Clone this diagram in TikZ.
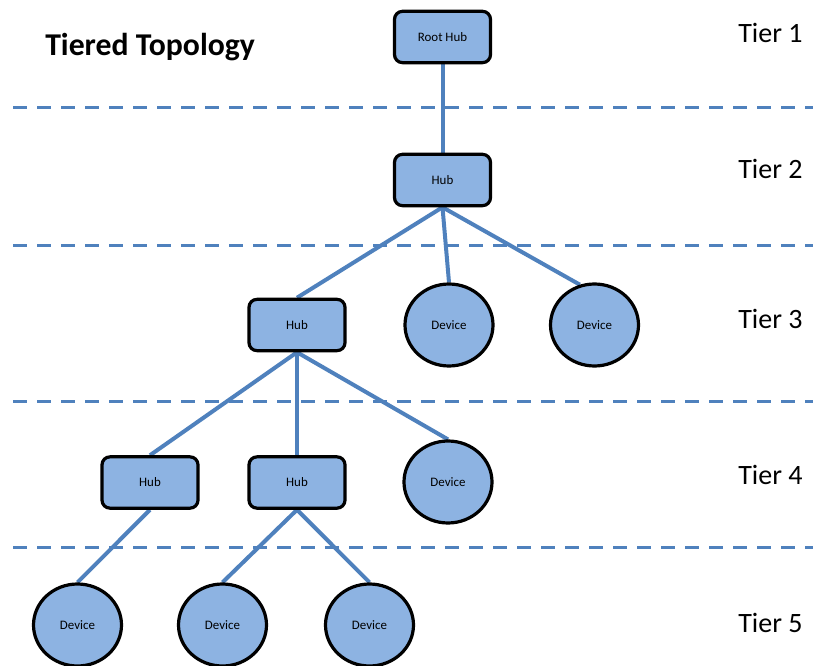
\documentclass[tikz,border=0pt]{standalone}
\usepackage{fontspec}
\setmainfont{Carlito}
\usetikzlibrary{shapes.geometric}
\pgfdeclarelayer{bg}
\pgfsetlayers{bg,main}
\definecolor{lineblue}{HTML}{4F81BD}
\definecolor{fillblue}{HTML}{8DB3E2}
\tikzset{
  hubbox/.style={draw=black, line width=2.4pt, fill=fillblue, rounded corners=6pt,
    minimum width=72pt, minimum height=38.5pt, inner sep=0pt, font=\fontsize{9.7}{10}\selectfont},
  devnode/.style={draw=black, line width=2.4pt, fill=fillblue, ellipse,
    minimum width=66pt, minimum height=61.5pt, inner sep=0pt, font=\fontsize{9.7}{10}\selectfont},
  conn/.style={draw=lineblue, line width=3pt},
  tierline/.style={draw=lineblue, line width=2.6pt, dash pattern=on 10.5pt off 7.5pt},
  tierlabel/.style={anchor=base west, inner sep=0pt, font=\fontsize{21}{24}\selectfont},
  titlelabel/.style={anchor=base west, inner sep=0pt, font=\bfseries\fontsize{23.8}{26}\selectfont}
}
\begin{document}
\begin{tikzpicture}[x=0.75pt,y=-0.75pt]
\useasboundingbox (0,0) rectangle (813,666);
% tier separators
\coordinate (l1a) at (13,107.7); \coordinate (l1b) at (813,107.7);
\coordinate (l2a) at (13,245.3); \coordinate (l2b) at (813,245.3);
\coordinate (l3a) at (13,401.7); \coordinate (l3b) at (813,401.7);
\coordinate (l4a) at (13,547.7); \coordinate (l4b) at (813,547.7);
\draw[tierline] (l1a) -- (l1b);
\draw[tierline] (l2a) -- (l2b);
\draw[tierline] (l3a) -- (l3b);
\draw[tierline] (l4a) -- (l4b);
% title and tier labels
\node[titlelabel] (title) at (45,56) {Tiered Topology};
\node[tierlabel] (t1) at (738,43) {Tier 1};
\node[tierlabel] (t2) at (738,179) {Tier 2};
\node[tierlabel] (t3) at (738,329) {Tier 3};
\node[tierlabel] (t4) at (738,484) {Tier 4};
\node[tierlabel] (t5) at (738,632) {Tier 5};
% nodes
\node[hubbox] (root) at (442.5,37) {Root Hub};
\node[hubbox] (hub2) at (442.5,180) {Hub};
\node[hubbox] (hub3) at (297,325) {Hub};
\node[devnode] (d31) at (449,325) {Device};
\node[devnode] (d32) at (594.5,325) {Device};
\node[hubbox] (hub4a) at (150,482.5) {Hub};
\node[hubbox] (hub4b) at (297,482.5) {Hub};
\node[devnode] (d41) at (448,482) {Device};
\node[devnode] (d51) at (77.5,625) {Device};
\node[devnode] (d52) at (222.5,625) {Device};
\node[devnode] (d53) at (369.5,625) {Device};
% connectors
\begin{pgfonlayer}{bg}
\draw[conn] (root.south) -- (hub2.north);
\draw[conn] (hub2.south) -- (hub3.north);
\draw[conn] (hub2.south) -- (d31.north);
\draw[conn] (hub2.south) -- (d32.110);
\draw[conn] (hub3.south) -- (hub4a.north);
\draw[conn] (hub3.south) -- (hub4b.north);
\draw[conn] (hub3.south) -- (d41.north);
\draw[conn] (hub4a.south) -- (d51.north);
\draw[conn] (hub4b.south) -- (d52.north);
\draw[conn] (hub4b.south) -- (d53.north);
\end{pgfonlayer}
\end{tikzpicture}
\end{document}
